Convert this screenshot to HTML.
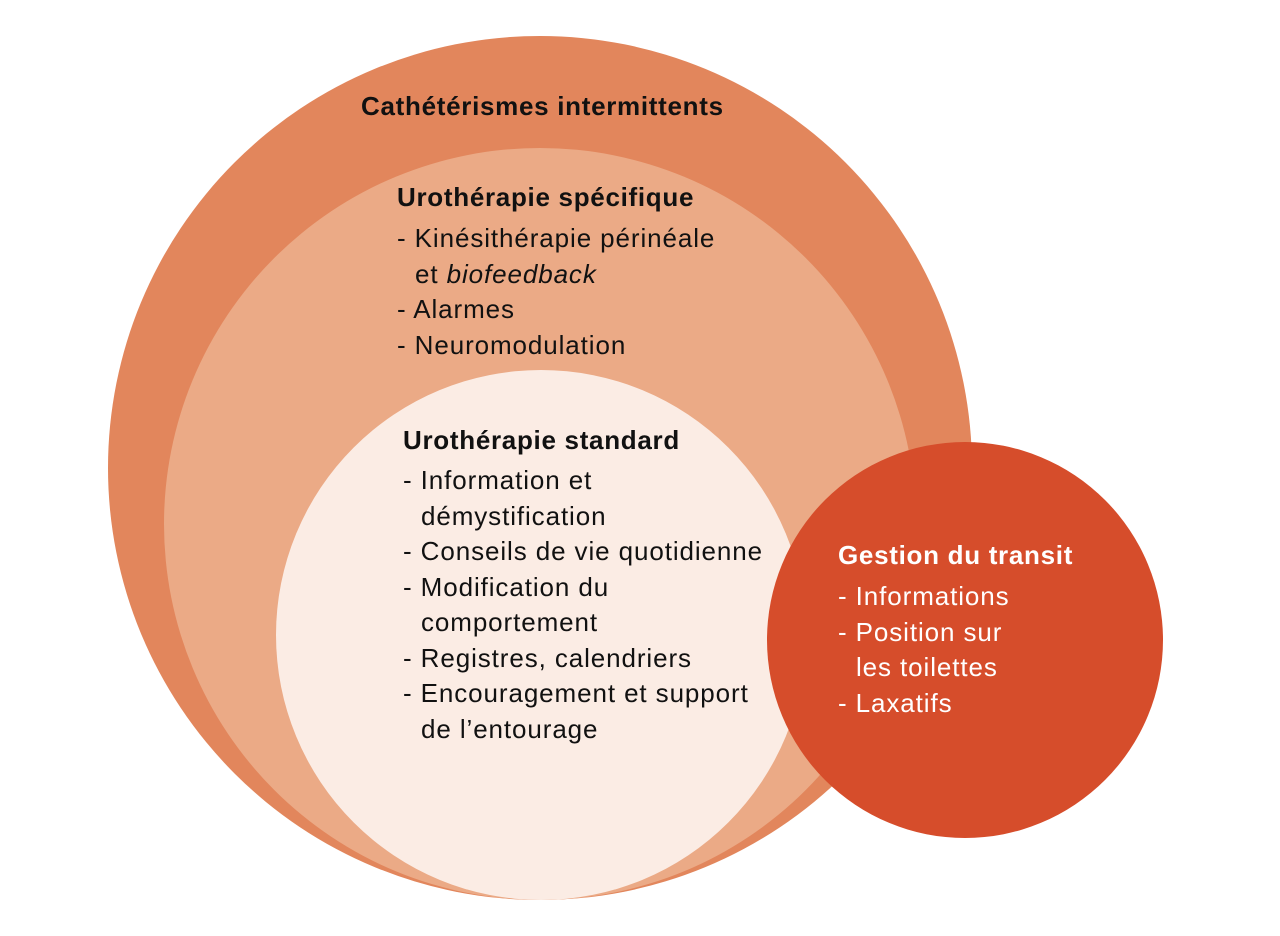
<!DOCTYPE html>
<html><head><meta charset="utf-8"><style>
body{margin:0;width:1280px;height:936px;background:#fff;overflow:hidden;font-family:"Liberation Sans",sans-serif;}
svg{position:absolute;left:0;top:0}
.t{position:absolute;font-size:26px;line-height:35.5px;color:#111;white-space:nowrap;letter-spacing:0.9px}
.b{font-weight:bold;letter-spacing:0.7px}
.w{color:#fff}
.i{display:inline-block;width:18px}
</style></head><body>
<svg width="1280" height="936">
<circle cx="540" cy="468" r="432" fill="#E2865C"/>
<circle cx="540" cy="524" r="376" fill="#EBAA86"/>
<circle cx="541" cy="635" r="265" fill="#FBECE4"/>
<circle cx="965" cy="640" r="198" fill="#D64D2B"/>
</svg>
<div class="t b" style="left:361px;top:89px">Cathétérismes intermittents</div>
<div class="t b" style="left:397px;top:180px">Urothérapie spécifique</div>
<div class="t" style="left:397px;top:221px">- Kinésithérapie périnéale<br><span class="i"></span>et <i>biofeedback</i><br>- Alarmes<br>- Neuromodulation</div>
<div class="t b" style="left:403px;top:423px">Urothérapie standard</div>
<div class="t" style="left:403px;top:463px">- Information et<br><span class="i"></span>démystification<br>- Conseils de vie quotidienne<br>- Modification du<br><span class="i"></span>comportement<br>- Registres, calendriers<br>- Encouragement et support<br><span class="i"></span>de l’entourage</div>
<div class="t b w" style="left:838px;top:538px">Gestion du transit</div>
<div class="t w" style="left:838px;top:579px">- Informations<br>- Position sur<br><span class="i"></span>les toilettes<br>- Laxatifs</div>
</body></html>
